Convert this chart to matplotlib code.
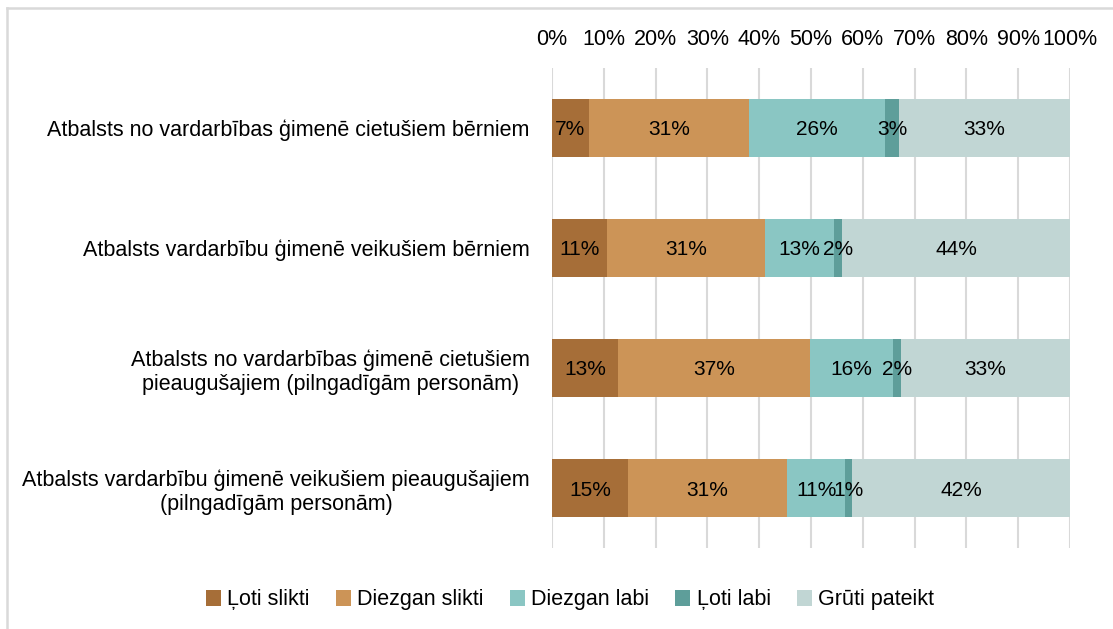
import matplotlib
matplotlib.use("Agg")
import matplotlib.pyplot as plt
from matplotlib.lines import Line2D
import numpy as np

plt.rcParams['font.family'] = ['Liberation Sans', 'DejaVu Sans']

categories = [
    "Atbalsts no vardarbības ģimenē cietušiem bērniem",
    "Atbalsts vardarbību ģimenē veikušiem bērniem",
    "Atbalsts no vardarbības ģimenē cietušiem\npieaugušajiem (pilngadīgām personām)",
    "Atbalsts vardarbību ģimenē veikušiem pieaugušajiem\n(pilngadīgām personām)",
]
series_names = ["Ļoti slikti", "Diezgan slikti", "Diezgan labi", "Ļoti labi", "Grūti pateikt"]
loti_slikti = [7.1, 10.6, 12.7, 14.6]
diezgan_slikti = [30.9, 30.6, 37.1, 30.8]
diezgan_labi = [26.3, 13.2, 16.0, 11.2]
loti_labi = [2.7, 1.6, 1.6, 1.3]
gruti_pateikt = [33.0, 44.0, 32.6, 42.1]
tick_labels = ["0%", "10%", "20%", "30%", "40%", "50%", "60%", "70%", "80%", "90%", "100%"]

series = [loti_slikti, diezgan_slikti, diezgan_labi, loti_labi, gruti_pateikt]
colors = ["#A66E38", "#CC9457", "#8AC6C3", "#5E9E9A", "#C1D6D4"]

FS = 15.5
W, H = 1113, 629
fig = plt.figure(figsize=(W / 100, H / 100), dpi=100)
ax = fig.add_axes([552 / W, 1 - 548 / H, (1070 - 552) / W, (548 - 68) / H])

y = np.arange(len(categories))
left = np.zeros(len(categories))
for name, vals, c in zip(series_names, series, colors):
    vals = np.array(vals)
    ax.barh(y, vals, left=left, height=0.49, color=c, label=name, zorder=3)
    for yi, l, v in zip(y, left, vals):
        ax.text(l + v / 2, yi, f"{int(round(v))}%", ha="center", va="center_baseline",
                fontsize=15, color="#000000", zorder=4)
    left += vals

ax.set_xlim(0, 100)
ax.set_ylim(3.5, -0.5)
ax.set_xticks(np.arange(0, 101, 10))
ax.set_xticklabels(tick_labels)
ax.xaxis.tick_top()
ax.tick_params(axis="x", length=0, pad=13, labelsize=FS)
ax.tick_params(axis="y", length=0, pad=16, labelsize=FS)
ax.set_yticks(y)
ax.set_yticklabels(categories, multialignment="center")
ax.grid(axis="x", color="#D9D9D9", linewidth=1.5, zorder=0)
for s in ax.spines.values():
    s.set_visible(False)

fig.legend(loc="center", bbox_to_anchor=(570 / W, 1 - 600 / H), ncol=5,
           frameon=False, fontsize=FS, handlelength=0.7, handleheight=0.7,
           handletextpad=0.3, columnspacing=1.2)

fig.add_artist(Line2D([7 / W, 7 / W], [0, 1 - 8 / H], transform=fig.transFigure,
                      color="#D9D9D9", linewidth=1.8))
fig.add_artist(Line2D([7 / W, 1], [1 - 8 / H, 1 - 8 / H], transform=fig.transFigure,
                      color="#D9D9D9", linewidth=1.8))

fig.savefig("out.png", dpi=100)
